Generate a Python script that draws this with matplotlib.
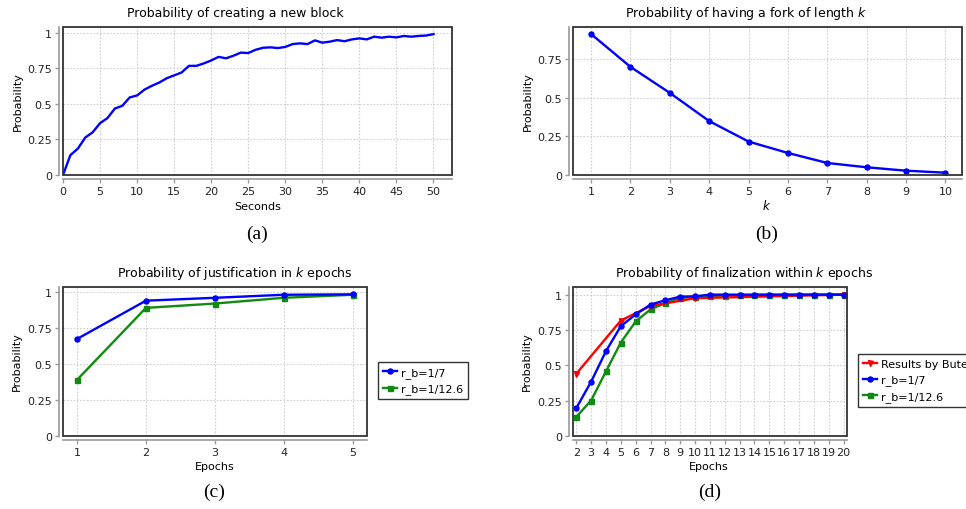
import matplotlib
matplotlib.use('Agg')
import matplotlib.pyplot as plt
from matplotlib.patches import Rectangle
from matplotlib.ticker import FuncFormatter

W, H = 966, 510

# (a) probability of creating a new block
seconds = list(range(51))
p_block = [0, 0.14, 0.185, 0.263, 0.30, 0.364, 0.40, 0.467, 0.486, 0.545, 0.559,
           0.60, 0.627, 0.65, 0.68, 0.70, 0.72, 0.767, 0.767, 0.784, 0.805,
           0.83, 0.82, 0.838, 0.86, 0.857, 0.88, 0.894, 0.897, 0.892, 0.90,
           0.92, 0.925, 0.92, 0.946, 0.93, 0.937, 0.948, 0.94, 0.953, 0.96,
           0.953, 0.972, 0.965, 0.972, 0.967, 0.977, 0.972, 0.977, 0.98, 0.99]

# (b) fork of length k
fork_k = list(range(1, 11))
p_fork = [0.915, 0.702, 0.533, 0.35, 0.217, 0.143, 0.078, 0.05, 0.028, 0.015]

# (c) justification in k epochs
just_epochs = [1, 2, 3, 4, 5]
just_b7 = [0.674, 0.94, 0.96, 0.981, 0.984]
just_b126 = [0.39, 0.89, 0.92, 0.96, 0.981]

# (d) finalization within k epochs
fin_epochs = list(range(2, 21))
fin_b7 = [0.197, 0.384, 0.60, 0.777, 0.86, 0.93, 0.96, 0.986, 0.988,
          1.0, 1.0, 1.0, 1.0, 1.0, 1.0, 1.0, 1.0, 1.0, 1.0]
fin_b126 = [0.135, 0.251, 0.457, 0.661, 0.81, 0.896, 0.94, 0.976, 0.985,
            0.99, 0.993, 0.995, 0.997, 0.998, 0.999, 1.0, 1.0, 1.0, 1.0]
buterin_epochs = [2, 5, 7, 10, 20]
buterin = [0.44, 0.817, 0.92, 0.975, 1.0]

labels = ['r_b=1/7', 'r_b=1/12.6', 'Results by Buterin']

BLUE, GREEN, RED = '#0000ff', '#108a10', '#ff0000'

plt.rcParams['font.family'] = 'DejaVu Sans'
fig = plt.figure(figsize=(W / 100, H / 100), dpi=100)


def box(l, t, r, b):
    return [l / W, 1 - b / H, (r - l) / W, (b - t) / H]


def style(ax, xticks, yticks):
    ax.set_xticks(xticks)
    ax.set_yticks(yticks)
    ax.yaxis.set_major_formatter(FuncFormatter(lambda v, p: '%g' % v))
    ax.grid(True, color='#cfcfcf', ls=(0, (1.5, 1.5)), lw=0.8)
    ax.set_axisbelow(True)
    for s in ['top', 'right']:
        ax.spines[s].set_visible(False)
    for s in ['bottom', 'left']:
        ax.spines[s].set_position(('outward', 3))
        ax.spines[s].set_color('#9a9a9a')
        ax.spines[s].set_linewidth(1.2)
    ax.tick_params(length=3, width=1, color='#9a9a9a', labelsize=8, pad=2,
                   labelcolor='#222222')
    ax.add_patch(Rectangle((0, 0), 1, 1, transform=ax.transAxes, fill=False,
                           ec='#333333', lw=1.3, clip_on=False, zorder=5))


def text(x, y, s, **kw):
    fig.text(x / W, 1 - y / H, s, ha='center', va='center', **kw)


lkw = dict(lw=1.7, ms=3.6)
legkw = dict(loc='upper left', fontsize=8, frameon=True, fancybox=False,
             edgecolor='black', handlelength=1.3, handletextpad=0.3,
             borderpad=0.45, labelspacing=0.5, borderaxespad=0)

# (a)
ax = fig.add_axes(box(63, 28, 452, 176))
ax.plot(seconds, p_block, color=BLUE, lw=1.7)
ax.set_xlim(0, 52.5)
ax.set_ylim(0, 1.04)
style(ax, range(0, 51, 5), [0, 0.25, 0.5, 0.75, 1])
text(235, 13, 'Probability of creating a new block', fontsize=9)
text(18, 102, 'Probability', fontsize=8, rotation=90)
text(258, 207, 'Seconds', fontsize=8)
text(257, 234, '(a)', fontsize=14, family='Liberation Serif')

# (b)
ax = fig.add_axes(box(573, 28, 962, 176))
ax.plot(fork_k, p_fork, color=BLUE, marker='o', **lkw)
ax.set_xlim(0.54, 10.42)
ax.set_ylim(0, 0.961)
style(ax, fork_k, [0, 0.25, 0.5, 0.75])
text(746, 13, 'Probability of having a fork of length $k$', fontsize=9)
text(528, 102, 'Probability', fontsize=8, rotation=90)
text(767, 206, '$k$', fontsize=8.5)
text(767, 234, '(b)', fontsize=14, family='Liberation Serif')

# (c)
ax = fig.add_axes(box(63, 288, 367, 437))
g, = ax.plot(just_epochs, just_b126, color=GREEN, marker='s', **lkw)
b, = ax.plot(just_epochs, just_b7, color=BLUE, marker='o', **lkw)
ax.set_xlim(0.796, 5.21)
ax.set_ylim(0, 1.035)
style(ax, just_epochs, [0, 0.25, 0.5, 0.75, 1])
fig.legend([b, g], labels[:2], bbox_to_anchor=(378 / W, 1 - 363 / H), **legkw)
text(235, 273, 'Probability of justification in $k$ epochs', fontsize=9)
text(17, 362, 'Probability', fontsize=8, rotation=90)
text(215, 467, 'Epochs', fontsize=8)
text(214, 492, '(c)', fontsize=14, family='Liberation Serif')

# (d)
ax = fig.add_axes(box(573, 288, 847, 437))
g, = ax.plot(fin_epochs, fin_b126, color=GREEN, marker='s', **lkw)
r, = ax.plot(buterin_epochs, buterin, color=RED, marker='v', **lkw)
b, = ax.plot(fin_epochs, fin_b7, color=BLUE, marker='o', **lkw)
ax.set_xlim(1.78, 20.23)
ax.set_ylim(0, 1.054)
style(ax, fin_epochs, [0, 0.25, 0.5, 0.75, 1])
fig.legend([r, b, g], [labels[2], labels[0], labels[1]],
           bbox_to_anchor=(858 / W, 1 - 355 / H), **legkw)
text(744, 273, 'Probability of finalization within $k$ epochs', fontsize=9)
text(527, 362, 'Probability', fontsize=8, rotation=90)
text(709, 467, 'Epochs', fontsize=8)
text(710, 492, '(d)', fontsize=14, family='Liberation Serif')

fig.savefig('out.png', dpi=100, facecolor='white')
